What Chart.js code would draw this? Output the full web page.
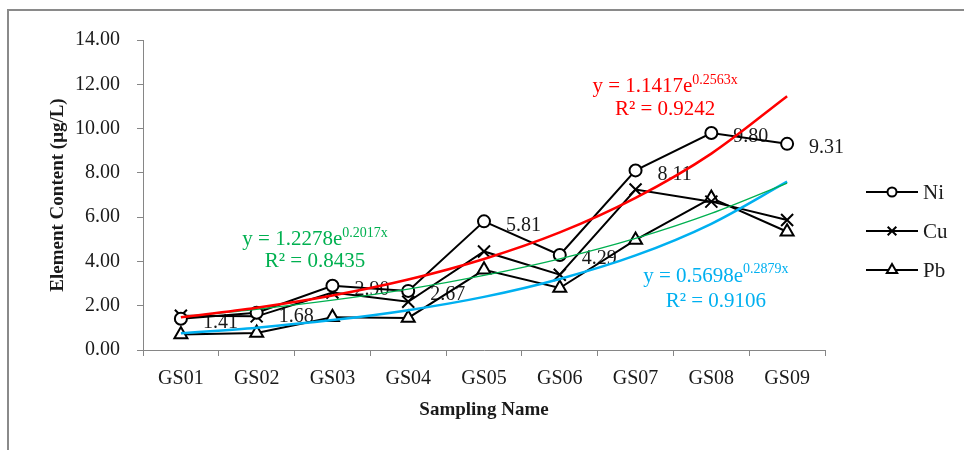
<!DOCTYPE html>
<html><head><meta charset="utf-8">
<script src="https://cdn.jsdelivr.net/npm/chart.js@4.4.1/dist/chart.umd.min.js"></script>
<style>
html,body{margin:0;padding:0;background:#fff;overflow:hidden}
#wrap{position:relative;width:964px;height:450px;overflow:hidden}
#frame{position:absolute;left:7px;top:9px;width:990px;height:480px;border:2px solid #8a8a8a;box-sizing:border-box}
canvas{position:absolute;left:0;top:0}
</style></head><body>
<div id="wrap"><div id="frame"></div><canvas id="c" width="964" height="450"></canvas></div>
<script>
const categories = ['GS01','GS02','GS03','GS04','GS05','GS06','GS07','GS08','GS09'];
const seriesNames = ['Ni','Cu','Pb'];
const niValues = [1.41, 1.68, 2.90, 2.67, 5.81, 4.29, 8.11, 9.80, 9.31];
const cuValues = [1.55, 1.52, 2.60, 2.18, 4.45, 3.40, 7.25, 6.70, 5.87];
const pbValues = [0.70, 0.77, 1.48, 1.45, 3.62, 2.80, 4.97, 6.86, 5.34];
const niTrend = [1.48, 1.91, 2.46, 3.18, 4.11, 5.31, 6.87, 8.87, 11.46];
const cuTrend = [1.50, 1.84, 2.25, 2.75, 3.37, 4.12, 5.04, 6.17, 7.54];
const pbTrend = [0.76, 1.01, 1.35, 1.80, 2.40, 3.21, 4.27, 5.70, 7.60];
const yTickValues = [0, 2, 4, 6, 8, 10, 12, 14];
const niEquation = ['y = 1.1417e', '0.2563x', 'R² = 0.9242'];
const cuEquation = ['y = 1.2278e', '0.2017x', 'R² = 0.8435'];
const pbEquation = ['y = 0.5698e', '0.2879x', 'R² = 0.9106'];

const SERIF = '"Liberation Serif", "Times New Roman", serif';
const RED = '#ff0000', GREEN = '#00b050', BLUE = '#00b0f0', AXIS = '#868686', TXT = '#1a1a1a';

function drawMarker(ctx, style, x, y, r) {
  ctx.beginPath();
  if (style === 'circle') {
    ctx.arc(x, y, r, 0, Math.PI * 2);
    ctx.fill(); ctx.stroke();
  } else if (style === 'crossRot') {
    const d = r * 0.72;
    ctx.moveTo(x - d, y - d); ctx.lineTo(x + d, y + d);
    ctx.moveTo(x + d, y - d); ctx.lineTo(x - d, y + d);
    ctx.stroke();
  } else if (style === 'triangle') {
    const w = r * 0.866;
    ctx.moveTo(x, y - r); ctx.lineTo(x + w, y + r * 0.5); ctx.lineTo(x - w, y + r * 0.5);
    ctx.closePath(); ctx.fill(); ctx.stroke();
  }
}

function drawEq(ctx, cx, cy, main, sup, color) {
  ctx.font = '21px ' + SERIF; const w1 = ctx.measureText(main).width;
  ctx.font = '14px ' + SERIF; const w2 = ctx.measureText(sup).width;
  const start = cx - (w1 + w2) / 2;
  ctx.fillStyle = color; ctx.textAlign = 'left'; ctx.textBaseline = 'middle';
  ctx.font = '21px ' + SERIF; ctx.fillText(main, start, cy);
  ctx.font = '14px ' + SERIF; ctx.fillText(sup, start + w1, cy - 7);
}

const annotPlugin = {
  id: 'annot',
  beforeDatasetsDraw(chart) {
    const {ctx, scales: {x, y}} = chart;
    ctx.save();
    ctx.font = '20px ' + SERIF; ctx.fillStyle = TXT;
    ctx.textAlign = 'left'; ctx.textBaseline = 'middle';
    niValues.forEach((v, i) => {
      ctx.fillText(v.toFixed(2), x.getPixelForValue(i) + 22, y.getPixelForValue(v) + 4);
    });
    ctx.restore();
  },
  afterDatasetsDraw(chart) {
    const {ctx, scales: {x, y}} = chart;
    ctx.save();
    const eqs = [
      {t: niEquation, c: RED, xi: 6.39, y1: 11.88, y2: 10.84},
      {t: cuEquation, c: GREEN, xi: 1.77, y1: 4.97, y2: 4.02},
      {t: pbEquation, c: BLUE, xi: 7.06, y1: 3.34, y2: 2.21}
    ];
    eqs.forEach(e => {
      const cx = x.getPixelForValue(0) + e.xi * (x.getPixelForValue(1) - x.getPixelForValue(0));
      drawEq(ctx, cx, y.getPixelForValue(e.y1), e.t[0], e.t[1], e.c);
      ctx.font = '21px ' + SERIF; ctx.textAlign = 'center'; ctx.fillStyle = e.c;
      ctx.fillText(e.t[2], cx, y.getPixelForValue(e.y2));
    });
    // legend
    const items = chart.data.datasets.filter(d => d.isSeries);
    const lx = chart.chartArea.right + 41, ly = 192, gap = 39;
    items.forEach((d, k) => {
      const yy = ly + k * gap;
      ctx.strokeStyle = '#000'; ctx.lineWidth = 2;
      ctx.beginPath(); ctx.moveTo(lx, yy); ctx.lineTo(lx + 52, yy); ctx.stroke();
      ctx.fillStyle = '#fff';
      drawMarker(ctx, d.pointStyle, lx + 26, yy, d.pointStyle === 'circle' ? 4.5 : 6);
      ctx.fillStyle = TXT; ctx.font = '21px ' + SERIF; ctx.textAlign = 'left'; ctx.textBaseline = 'middle';
      ctx.fillText(d.label, lx + 57, yy + 1);
    });
    ctx.restore();
  }
};

const seriesStyle = (label, data, ps, r) => ({
  label, data, isSeries: true, order: 2,
  borderColor: '#000', borderWidth: 2, backgroundColor: '#fff',
  pointStyle: ps, pointRadius: r, pointBorderWidth: 2,
  pointBorderColor: '#000', pointBackgroundColor: '#fff', tension: 0
});
const trendStyle = (label, data, color, w) => ({
  label, data, isSeries: false, order: 1,
  borderColor: color, borderWidth: w, pointRadius: 0, fill: false,
  cubicInterpolationMode: 'monotone'
});

new Chart(document.getElementById('c'), {
  type: 'line',
  data: {
    labels: categories,
    datasets: [
      seriesStyle(seriesNames[0], niValues, 'circle', 6),
      seriesStyle(seriesNames[1], cuValues, 'crossRot', 8.5),
      seriesStyle(seriesNames[2], pbValues, 'triangle', 7.5),
      trendStyle('Expon. (Ni)', niTrend, RED, 2.5),
      trendStyle('Expon. (Cu)', cuTrend, GREEN, 1.3),
      trendStyle('Expon. (Pb)', pbTrend, BLUE, 2.5)
    ]
  },
  options: {
    responsive: false, animation: false,
    layout: {padding: {left: 37, top: 40, right: 139, bottom: 25}},
    plugins: {legend: {display: false}, tooltip: {enabled: false}},
    scales: {
      x: {
        offset: true,
        grid: {offset: true, drawOnChartArea: false, drawTicks: true, tickLength: 6, color: AXIS},
        border: {color: AXIS, width: 1},
        ticks: {font: {family: SERIF, size: 20}, color: TXT, padding: 11, maxRotation: 0},
        title: {display: true, text: 'Sampling Name', font: {family: SERIF, size: 19, weight: 'bold'}, color: TXT, padding: {top: 0, bottom: 4}},
        afterFit(s) { s.height = 75; }
      },
      y: {
        min: 0, max: 14,
        afterBuildTicks(s) { s.ticks = yTickValues.map(v => ({value: v})); },
        grid: {drawOnChartArea: false, drawTicks: true, tickLength: 6, color: AXIS},
        border: {color: AXIS, width: 1},
        ticks: {font: {family: SERIF, size: 20}, color: TXT, padding: 17, callback: v => Number(v).toFixed(2)},
        title: {display: true, text: 'Element Content (μg/L)', font: {family: SERIF, size: 19, weight: 'bold'}, color: TXT, padding: {top: 10, bottom: 0}},
        afterFit(s) { s.width = 106; }
      }
    }
  },
  plugins: [annotPlugin]
});
</script>
</body></html>
